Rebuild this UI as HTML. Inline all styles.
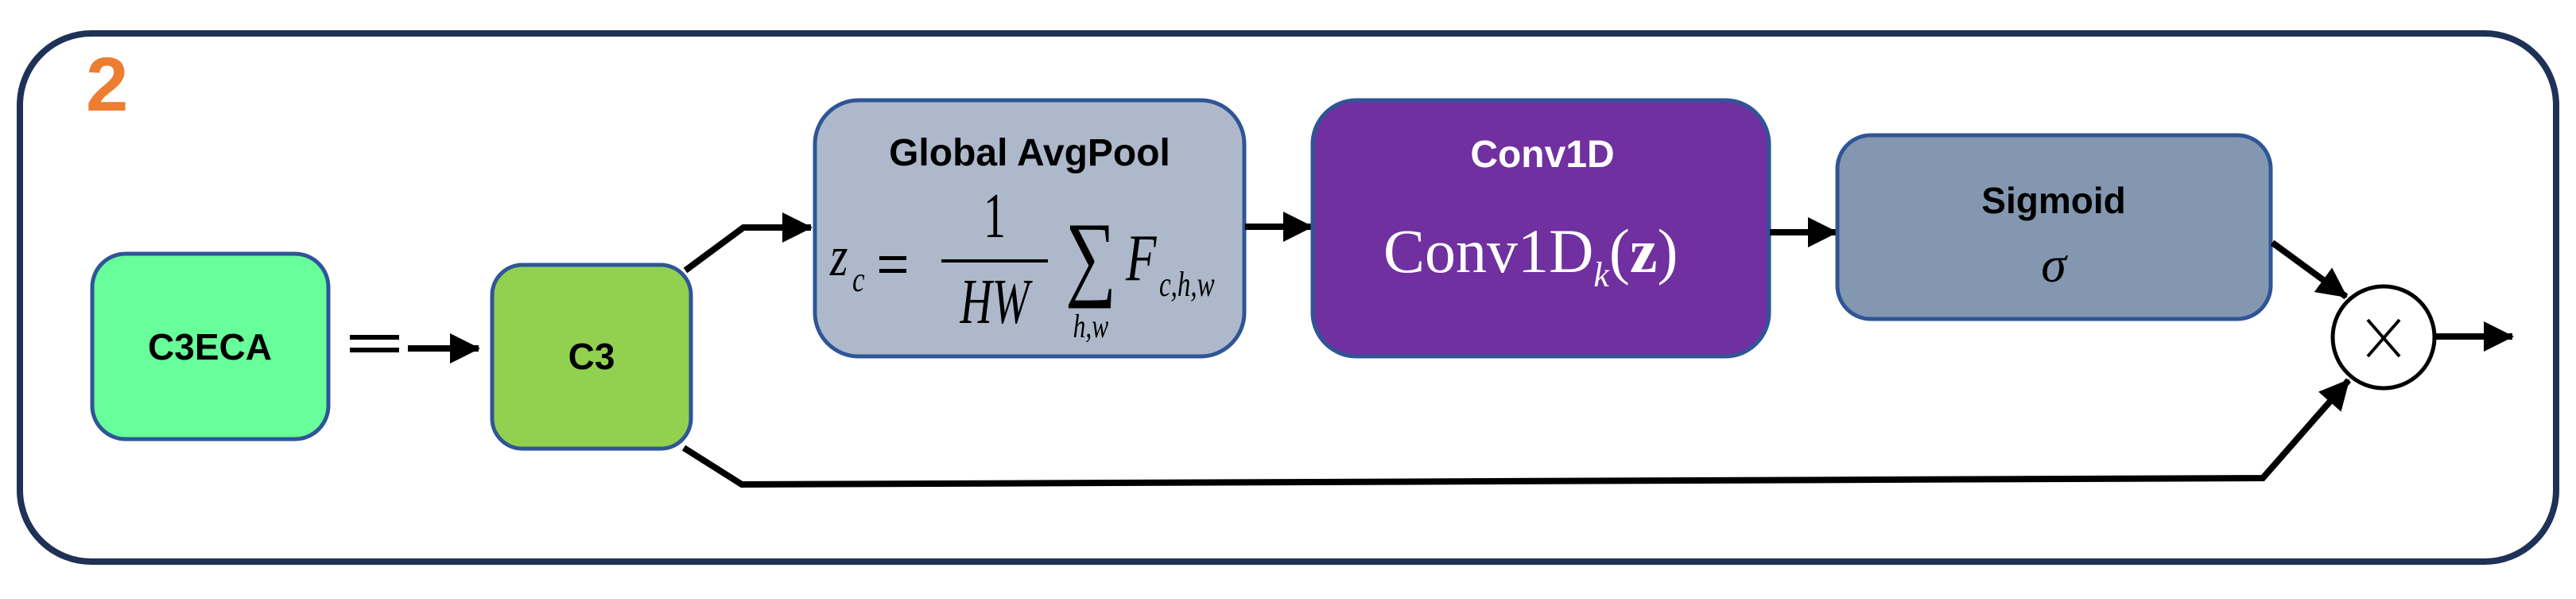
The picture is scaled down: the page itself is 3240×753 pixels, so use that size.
<!DOCTYPE html>
<html><head><meta charset="utf-8"><style>
html,body{margin:0;padding:0;background:#fff;}
svg{display:block;}
</style></head><body>
<svg width="3240" height="753" viewBox="0 0 3240 753" xmlns="http://www.w3.org/2000/svg">
<defs>
<marker id="ah" markerUnits="userSpaceOnUse" markerWidth="40" markerHeight="40" refX="36" refY="19" orient="auto">
<path d="M0,0 L38,19 L0,38 Z" fill="#000"/>
</marker>
</defs>
<rect x="25" y="42" width="3190" height="664" rx="90" ry="90" fill="#fff" stroke="#1F3157" stroke-width="8"/>
<text x="108" y="139" font-family="Liberation Sans, sans-serif" font-weight="bold" font-size="96" fill="#ED7D31">2</text>

<rect x="116" y="319" width="297" height="233" rx="42" fill="#66FF99" stroke="#2F5597" stroke-width="5"/>
<text x="264" y="452" text-anchor="middle" font-family="Liberation Sans, sans-serif" font-weight="bold" font-size="46">C3ECA</text>

<rect x="440" y="421" width="62" height="6" fill="#000"/>
<rect x="440" y="437" width="62" height="6" fill="#000"/>
<line x1="513" y1="438" x2="602" y2="438" stroke="#000" stroke-width="8" marker-end="url(#ah)"/>

<rect x="619" y="333" width="250" height="231" rx="38" fill="#92D050" stroke="#2F5597" stroke-width="5"/>
<text x="744" y="464" text-anchor="middle" font-family="Liberation Sans, sans-serif" font-weight="bold" font-size="46">C3</text>

<polyline points="862,340 935,286 1020,286" fill="none" stroke="#000" stroke-width="8" marker-end="url(#ah)"/>
<polyline points="860,563 933,609 2846,601 2954,478" fill="none" stroke="#000" stroke-width="8" marker-end="url(#ah)"/>

<rect x="1025" y="126" width="540" height="322" rx="55" fill="#ADB9CA" stroke="#2F5597" stroke-width="5"/>
<text x="1295" y="208" text-anchor="middle" font-family="Liberation Sans, sans-serif" font-weight="bold" font-size="48">Global AvgPool</text>
<g font-family="Liberation Serif, serif" font-style="italic">
<text x="1044" y="346" font-size="72" transform="translate(1044,0) scale(0.8,1) translate(-1044,0)">z</text>
<text x="1072" y="366" font-size="44" transform="translate(1072,0) scale(0.8,1) translate(-1072,0)">c</text>
<rect x="1106" y="322" width="34" height="5" fill="#000"/>
<rect x="1106" y="338" width="34" height="5" fill="#000"/>
<text x="1251" y="298" font-size="80" font-style="normal" text-anchor="middle" transform="translate(1251,0) scale(0.7,1) translate(-1251,0)">1</text>
<rect x="1184" y="326" width="134" height="4" fill="#000"/>
<text x="1251" y="406" font-size="80" text-anchor="middle" transform="translate(1251,0) scale(0.7,1) translate(-1251,0)">HW</text>
<text x="1372" y="362" font-size="120" font-style="normal" text-anchor="middle" transform="translate(1372,0) scale(0.75,1) translate(-1372,0)">∑</text>
<text x="1372" y="424" font-size="42" text-anchor="middle" transform="translate(1372,0) scale(0.75,1) translate(-1372,0)">h,w</text>
<text x="1416" y="352" font-size="84" transform="translate(1416,0) scale(0.75,1) translate(-1416,0)">F</text>
<text x="1458" y="372" font-size="44" transform="translate(1458,0) scale(0.75,1) translate(-1458,0)">c,h,w</text>
</g>
<line x1="1566" y1="285" x2="1650" y2="285" stroke="#000" stroke-width="8" marker-end="url(#ah)"/>

<rect x="1651" y="126" width="574" height="322" rx="55" fill="#7030A0" stroke="#2F5597" stroke-width="5"/>
<text x="1940" y="210" text-anchor="middle" font-family="Liberation Sans, sans-serif" font-weight="bold" font-size="48" fill="#fff">Conv1D</text>
<text x="1740" y="342" font-family="Liberation Serif, serif" font-size="78" fill="#fff">Conv1D<tspan font-style="italic" font-size="44" dy="18">k</tspan><tspan dy="-18">(</tspan><tspan font-weight="bold">z</tspan>)</text>
<line x1="2226" y1="292" x2="2310" y2="292" stroke="#000" stroke-width="8" marker-end="url(#ah)"/>

<rect x="2311" y="170" width="545" height="231" rx="42" fill="#8497B0" stroke="#2F5597" stroke-width="5"/>
<text x="2583" y="268" text-anchor="middle" font-family="Liberation Sans, sans-serif" font-weight="bold" font-size="46">Sigmoid</text>
<text x="2583" y="354" text-anchor="middle" font-family="Liberation Serif, serif" font-style="italic" font-size="64">σ</text>

<line x1="2858" y1="305" x2="2951" y2="373" stroke="#000" stroke-width="8" marker-end="url(#ah)"/>
<ellipse cx="2998" cy="424" rx="64" ry="64" fill="#fff" stroke="#000" stroke-width="5"/>
<path d="M2978,402 L3018,448 M3018,402 L2978,448" stroke="#000" stroke-width="4"/>
<line x1="3064" y1="423" x2="3160" y2="423" stroke="#000" stroke-width="8" marker-end="url(#ah)"/>
</svg>
</body></html>
